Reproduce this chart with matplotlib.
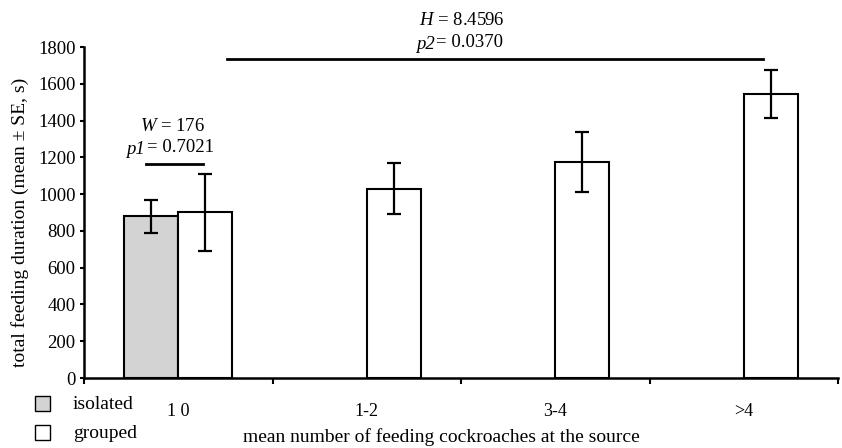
import numpy as np
import matplotlib
matplotlib.use('Agg')
import matplotlib.pyplot as plt
from matplotlib.patches import Rectangle

plt.rcParams['font.family'] = ['Liberation Serif', 'DejaVu Serif']
plt.rcParams['mathtext.fontset'] = 'custom'
plt.rcParams['mathtext.it'] = 'Liberation Serif:italic'
plt.rcParams['mathtext.rm'] = 'Liberation Serif'

categories = ['1 0', '1-2', '3-4', '>4']
isolated_mean = [880]
isolated_se = [90]
grouped_mean = [902, 1030, 1176, 1545]
grouped_se = [210, 140, 163, 130]

fig = plt.figure(figsize=(8.42, 4.48), dpi=100)
ax = fig.add_axes([84 / 842, 70 / 448, 754 / 842, 331 / 448])

x = np.arange(len(categories))
w = 0.2865
err_kw = dict(ecolor='black', elinewidth=1.6, capsize=5, capthick=1.6)

ax.bar(x[:1] - w / 2, isolated_mean, w, yerr=isolated_se, color='#d3d3d3',
       edgecolor='black', linewidth=1.5, error_kw=err_kw, zorder=2)
ax.bar(x + w / 2, grouped_mean, w, yerr=grouped_se, color='white',
       edgecolor='black', linewidth=1.5, error_kw=err_kw, zorder=2)

ax.set_xlim(-0.5, 3.5)
ax.set_ylim(0, 1800)
ax.set_yticks(range(0, 1801, 200))
ax.set_xticks(x)
ax.set_xticklabels(categories)
ax.set_xticks(np.arange(-0.5, 3.6, 1), minor=True)
ax.tick_params(axis='x', which='major', length=0, pad=18, labelsize=13)
ax.tick_params(axis='x', which='minor', length=4, width=1.5)
ax.tick_params(axis='y', length=3, width=1.5, labelsize=13.5, pad=3)
for s in ['top', 'right']:
    ax.spines[s].set_visible(False)
for s in ['left', 'bottom']:
    ax.spines[s].set_linewidth(1.8)

# significance annotations
ax.plot([-0.171, 0.131], [1163, 1163], color='black', lw=2, clip_on=False)
ax.text(-0.03, 1370, '$W$ = 176', ha='center', va='center', fontsize=13.5)
ax.text(-0.175, 1245, 'p1', ha='right', va='center', fontsize=13.5, style='italic')
ax.text(-0.165, 1255, '= 0.7021', ha='left', va='center', fontsize=13.5)

ax.plot([0.259, 3.102], [1734, 1734], color='black', lw=2, clip_on=False)
ax.text(1.505, 1946, '$H$ = 8.4596', ha='center', va='center', fontsize=13.5)
ax.text(1.36, 1816, 'p2', ha='right', va='center', fontsize=13.5, style='italic')
ax.text(1.37, 1826, '= 0.0370', ha='left', va='center', fontsize=13.5)

# axis labels
fig.text(20 / 842, 1 - 222 / 448, 'total feeding duration (mean ± SE, s)',
         rotation=90, ha='center', va='center', fontsize=14)
fig.text(441 / 842, 1 - 437 / 448, 'mean number of feeding cockroaches at the source',
         ha='center', va='center', fontsize=14)

# legend
for yy, fc, lab in [(404, '#d3d3d3', 'isolated'), (433, 'white', 'grouped')]:
    fig.add_artist(Rectangle((35 / 842, 1 - (yy + 7) / 448), 15 / 842, 15 / 448,
                             transform=fig.transFigure, facecolor=fc,
                             edgecolor='black', linewidth=1))
    fig.text(73 / 842, 1 - yy / 448, lab, ha='left', va='center', fontsize=14)

plt.savefig('out.png')
